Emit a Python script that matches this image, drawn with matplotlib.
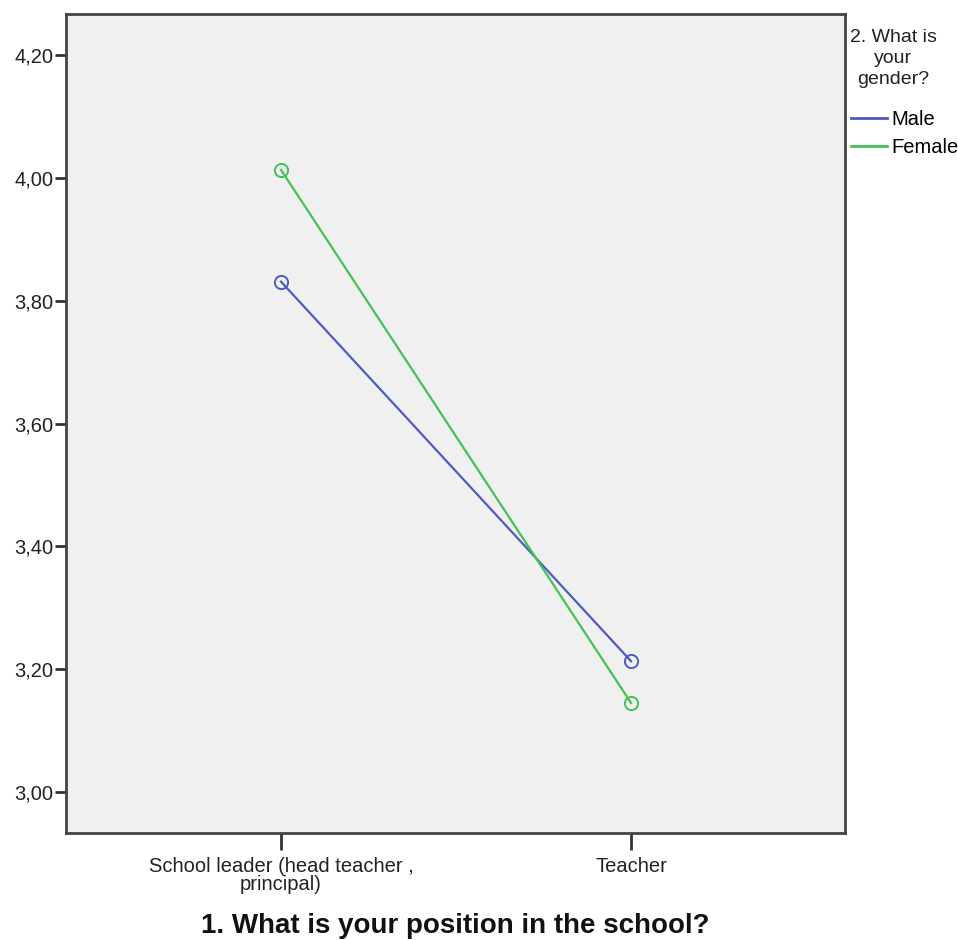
import matplotlib
matplotlib.use("Agg")
import matplotlib.pyplot as plt
from matplotlib.lines import Line2D

plt.rcParams['font.family'] = ['Liberation Sans', 'DejaVu Sans']

categories = ["School leader (head teacher ,\nprincipal)", "Teacher"]
male = [3.831, 3.213]
female = [4.013, 3.145]
yticks = [3.0, 3.2, 3.4, 3.6, 3.8, 4.0, 4.2]
ytick_labels = ["3,00", "3,20", "3,40", "3,60", "3,80", "4,00", "4,20"]
series_names = ["Male", "Female"]
legend_title = "2. What is\nyour\ngender?"
xlabel = "1. What is your position in the school?"

c_male = "#4d5cc0"
c_female = "#44c252"

fig = plt.figure(figsize=(9.58, 9.40), dpi=100)
ax = fig.add_axes([66/958, 1-833/940, (845-66)/958, (833-14)/940])
ax.set_facecolor("#f0f0f0")

x = list(range(len(categories)))
ax.plot(x, male, color=c_male, lw=1.6, marker='o', ms=9.5, mfc='none', mew=1.4)
ax.plot(x, female, color=c_female, lw=1.6, marker='o', ms=9.5, mfc='none', mew=1.4)

ax.set_xlim(-0.614, 1.611)
ax.set_ylim(2.9333, 4.2667)
ax.set_yticks(yticks)
ax.set_yticklabels(ytick_labels, fontsize=14.5, color="#222222")
ax.set_xticks(x)
ax.set_xticklabels(categories, fontsize=14.5, color="#222222", linespacing=0.95)
ax.tick_params(axis='y', length=8, width=2, color="#333333", pad=1)
ax.tick_params(axis='x', length=12, width=2, color="#333333", pad=5)
for s in ax.spines.values():
    s.set_linewidth(2)
    s.set_color("#444444")

ax.set_xlabel(xlabel, fontsize=20, fontweight='bold', labelpad=14, color="#111111")

handles = [Line2D([], [], color=c_male, lw=2), Line2D([], [], color=c_female, lw=2)]
fig.text(893/958, 1-29/940, legend_title, ha='center', va='top', fontsize=14,
         linespacing=1.3, color="#222222")
leg = fig.legend(handles, series_names, loc='upper left', bbox_to_anchor=(851/958, 1-110/940),
                 frameon=False, fontsize=14.5, handlelength=1.8, handletextpad=0.2,
                 labelspacing=0.45, borderpad=0, borderaxespad=0)

fig.savefig("out.png", dpi=100)
